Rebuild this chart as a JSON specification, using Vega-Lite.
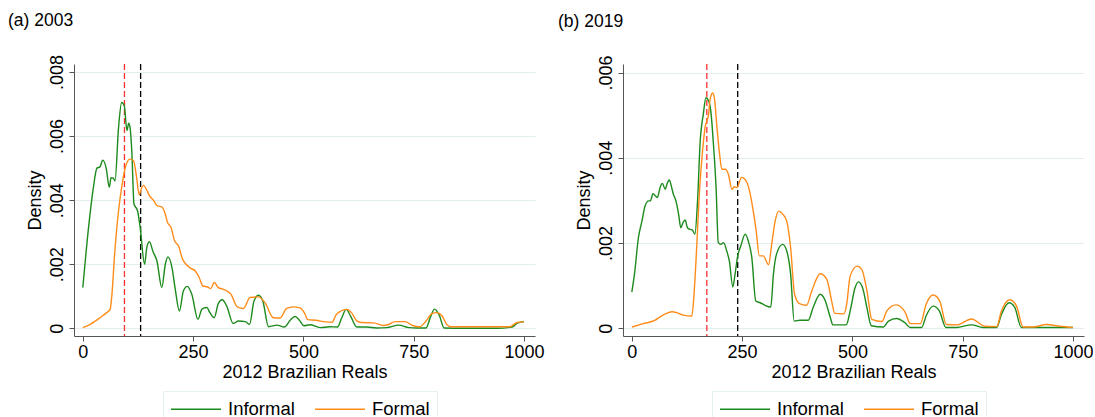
{
  "$schema": "https://vega.github.io/schema/vega-lite/v6.json",
  "padding": {"left": 8, "top": 11, "right": 0, "bottom": 0},
  "spacing": 14,
  "datasets": {
    "y2003": [
      {"reais": 0, "density": 0.00127, "sector": "Informal"}, {"reais": 13, "density": 0.00315, "sector": "Informal"},
      {"reais": 24, "density": 0.0044, "sector": "Informal"}, {"reais": 32, "density": 0.005, "sector": "Informal"},
      {"reais": 39, "density": 0.00504, "sector": "Informal"}, {"reais": 45, "density": 0.00525, "sector": "Informal"},
      {"reais": 53, "density": 0.005, "sector": "Informal"}, {"reais": 60, "density": 0.0044, "sector": "Informal"},
      {"reais": 64, "density": 0.0047, "sector": "Informal"}, {"reais": 69, "density": 0.00469, "sector": "Informal"},
      {"reais": 73, "density": 0.0046, "sector": "Informal"}, {"reais": 81, "density": 0.00627, "sector": "Informal"},
      {"reais": 88, "density": 0.00705, "sector": "Informal"}, {"reais": 94, "density": 0.00695, "sector": "Informal"},
      {"reais": 100, "density": 0.00617, "sector": "Informal"}, {"reais": 104, "density": 0.0064, "sector": "Informal"},
      {"reais": 107, "density": 0.00627, "sector": "Informal"}, {"reais": 111, "density": 0.00554, "sector": "Informal"},
      {"reais": 116, "density": 0.00388, "sector": "Informal"}, {"reais": 124, "density": 0.00367, "sector": "Informal"},
      {"reais": 130, "density": 0.00315, "sector": "Informal"}, {"reais": 140, "density": 0.002, "sector": "Informal"},
      {"reais": 145, "density": 0.00252, "sector": "Informal"}, {"reais": 151, "density": 0.0027, "sector": "Informal"},
      {"reais": 159, "density": 0.0024, "sector": "Informal"}, {"reais": 168, "density": 0.0021, "sector": "Informal"},
      {"reais": 179, "density": 0.00127, "sector": "Informal"}, {"reais": 187, "density": 0.002, "sector": "Informal"},
      {"reais": 193, "density": 0.00223, "sector": "Informal"}, {"reais": 202, "density": 0.0019, "sector": "Informal"},
      {"reais": 209, "density": 0.00127, "sector": "Informal"}, {"reais": 219, "density": 0.00054, "sector": "Informal"},
      {"reais": 228, "density": 0.00117, "sector": "Informal"}, {"reais": 237, "density": 0.00131, "sector": "Informal"},
      {"reais": 247, "density": 0.00106, "sector": "Informal"}, {"reais": 261, "density": 0.00028, "sector": "Informal"},
      {"reais": 270, "density": 0.0006, "sector": "Informal"}, {"reais": 281, "density": 0.00065, "sector": "Informal"},
      {"reais": 288, "density": 0.00049, "sector": "Informal"}, {"reais": 298, "density": 0.00033, "sector": "Informal"},
      {"reais": 307, "density": 0.00077, "sector": "Informal"}, {"reais": 316, "density": 0.00089, "sector": "Informal"},
      {"reais": 326, "density": 0.0007, "sector": "Informal"}, {"reais": 341, "density": 0.00015, "sector": "Informal"},
      {"reais": 353, "density": 0.00023, "sector": "Informal"}, {"reais": 368, "density": 0.00021, "sector": "Informal"},
      {"reais": 378, "density": 0.000125, "sector": "Informal"}, {"reais": 388, "density": 0.00085, "sector": "Informal"},
      {"reais": 398, "density": 0.00103, "sector": "Informal"}, {"reais": 408, "density": 0.00085, "sector": "Informal"},
      {"reais": 421, "density": 0.00005, "sector": "Informal"}, {"reais": 440, "density": 0.0001, "sector": "Informal"},
      {"reais": 457, "density": 0.00004, "sector": "Informal"}, {"reais": 470, "density": 0.00025, "sector": "Informal"},
      {"reais": 481, "density": 0.00037, "sector": "Informal"}, {"reais": 491, "density": 0.00025, "sector": "Informal"},
      {"reais": 501, "density": 0.00008, "sector": "Informal"}, {"reais": 515, "density": 0.00011, "sector": "Informal"},
      {"reais": 538, "density": 0.00002, "sector": "Informal"}, {"reais": 560, "density": 0.00005, "sector": "Informal"},
      {"reais": 577, "density": 0.00004, "sector": "Informal"}, {"reais": 587, "density": 0.00033, "sector": "Informal"},
      {"reais": 597, "density": 0.00059, "sector": "Informal"}, {"reais": 607, "density": 0.00038, "sector": "Informal"},
      {"reais": 621, "density": 0.00004, "sector": "Informal"}, {"reais": 643, "density": 0.00004, "sector": "Informal"},
      {"reais": 666, "density": 0.00001, "sector": "Informal"}, {"reais": 689, "density": 0.00002, "sector": "Informal"},
      {"reais": 716, "density": 0.0001, "sector": "Informal"}, {"reais": 739, "density": 0.00002, "sector": "Informal"},
      {"reais": 758, "density": 0.00001, "sector": "Informal"}, {"reais": 778, "density": 0.00001, "sector": "Informal"},
      {"reais": 788, "density": 0.00035, "sector": "Informal"}, {"reais": 797, "density": 0.0006, "sector": "Informal"},
      {"reais": 808, "density": 0.00041, "sector": "Informal"}, {"reais": 819, "density": 0.00001, "sector": "Informal"},
      {"reais": 863, "density": 0, "sector": "Informal"}, {"reais": 939, "density": 0, "sector": "Informal"},
      {"reais": 973, "density": 0.00004, "sector": "Informal"}, {"reais": 984, "density": 0.00015, "sector": "Informal"},
      {"reais": 1000, "density": 0.00021, "sector": "Informal"},
      {"reais": 0, "density": 0.00002, "sector": "Formal"}, {"reais": 17, "density": 0.000125, "sector": "Formal"},
      {"reais": 39, "density": 0.00033, "sector": "Formal"}, {"reais": 54, "density": 0.00049, "sector": "Formal"},
      {"reais": 62, "density": 0.0006, "sector": "Formal"}, {"reais": 66, "density": 0.00106, "sector": "Formal"},
      {"reais": 72, "density": 0.0023, "sector": "Formal"}, {"reais": 81, "density": 0.00367, "sector": "Formal"},
      {"reais": 88, "density": 0.0044, "sector": "Formal"}, {"reais": 98, "density": 0.0051, "sector": "Formal"},
      {"reais": 107, "density": 0.00528, "sector": "Formal"}, {"reais": 115, "density": 0.00523, "sector": "Formal"},
      {"reais": 121, "density": 0.0048, "sector": "Formal"}, {"reais": 128, "density": 0.00417, "sector": "Formal"},
      {"reais": 132, "density": 0.00434, "sector": "Formal"}, {"reais": 138, "density": 0.00446, "sector": "Formal"},
      {"reais": 144, "density": 0.00434, "sector": "Formal"}, {"reais": 151, "density": 0.00414, "sector": "Formal"},
      {"reais": 160, "density": 0.004, "sector": "Formal"}, {"reais": 169, "density": 0.00382, "sector": "Formal"},
      {"reais": 179, "density": 0.00379, "sector": "Formal"}, {"reais": 187, "density": 0.00356, "sector": "Formal"},
      {"reais": 192, "density": 0.0033, "sector": "Formal"}, {"reais": 200, "density": 0.00315, "sector": "Formal"},
      {"reais": 208, "density": 0.00273, "sector": "Formal"}, {"reais": 217, "density": 0.00257, "sector": "Formal"},
      {"reais": 226, "density": 0.00216, "sector": "Formal"}, {"reais": 234, "density": 0.002, "sector": "Formal"},
      {"reais": 245, "density": 0.00187, "sector": "Formal"}, {"reais": 255, "density": 0.00179, "sector": "Formal"},
      {"reais": 264, "density": 0.00158, "sector": "Formal"}, {"reais": 272, "density": 0.00132, "sector": "Formal"},
      {"reais": 283, "density": 0.00129, "sector": "Formal"}, {"reais": 290, "density": 0.00124, "sector": "Formal"},
      {"reais": 298, "density": 0.00143, "sector": "Formal"}, {"reais": 307, "density": 0.00127, "sector": "Formal"},
      {"reais": 320, "density": 0.00121, "sector": "Formal"}, {"reais": 336, "density": 0.00106, "sector": "Formal"},
      {"reais": 350, "density": 0.00067, "sector": "Formal"}, {"reais": 364, "density": 0.00062, "sector": "Formal"},
      {"reais": 379, "density": 0.00096, "sector": "Formal"}, {"reais": 398, "density": 0.00098, "sector": "Formal"},
      {"reais": 413, "density": 0.0008, "sector": "Formal"}, {"reais": 432, "density": 0.00033, "sector": "Formal"},
      {"reais": 447, "density": 0.00032, "sector": "Formal"}, {"reais": 462, "density": 0.00062, "sector": "Formal"},
      {"reais": 477, "density": 0.00067, "sector": "Formal"}, {"reais": 492, "density": 0.00064, "sector": "Formal"},
      {"reais": 502, "density": 0.00049, "sector": "Formal"}, {"reais": 510, "density": 0.00027, "sector": "Formal"},
      {"reais": 528, "density": 0.00025, "sector": "Formal"}, {"reais": 551, "density": 0.0002, "sector": "Formal"},
      {"reais": 565, "density": 0.00019, "sector": "Formal"}, {"reais": 574, "density": 0.00042, "sector": "Formal"},
      {"reais": 585, "density": 0.00054, "sector": "Formal"}, {"reais": 598, "density": 0.00059, "sector": "Formal"},
      {"reais": 609, "density": 0.00049, "sector": "Formal"}, {"reais": 621, "density": 0.00023, "sector": "Formal"},
      {"reais": 632, "density": 0.00018, "sector": "Formal"}, {"reais": 659, "density": 0.00017, "sector": "Formal"},
      {"reais": 681, "density": 0.00009, "sector": "Formal"}, {"reais": 693, "density": 0.00012, "sector": "Formal"},
      {"reais": 708, "density": 0.00021, "sector": "Formal"}, {"reais": 730, "density": 0.00021, "sector": "Formal"},
      {"reais": 749, "density": 0.00008, "sector": "Formal"}, {"reais": 764, "density": 0.00005, "sector": "Formal"},
      {"reais": 778, "density": 0.00023, "sector": "Formal"}, {"reais": 791, "density": 0.00046, "sector": "Formal"},
      {"reais": 802, "density": 0.00049, "sector": "Formal"}, {"reais": 814, "density": 0.00039, "sector": "Formal"},
      {"reais": 825, "density": 0.00012, "sector": "Formal"}, {"reais": 834, "density": 0.00005, "sector": "Formal"},
      {"reais": 900, "density": 0.00005, "sector": "Formal"}, {"reais": 968, "density": 0.00005, "sector": "Formal"},
      {"reais": 984, "density": 0.00018, "sector": "Formal"}, {"reais": 1000, "density": 0.0002, "sector": "Formal"}
    ],
    "y2019": [
      {"reais": 0, "density": 0.00085, "sector": "Informal"}, {"reais": 6, "density": 0.00127, "sector": "Informal"},
      {"reais": 15, "density": 0.00213, "sector": "Informal"}, {"reais": 23, "density": 0.00252, "sector": "Informal"},
      {"reais": 30, "density": 0.00287, "sector": "Informal"}, {"reais": 38, "density": 0.00299, "sector": "Informal"},
      {"reais": 42, "density": 0.00299, "sector": "Informal"}, {"reais": 48, "density": 0.00316, "sector": "Informal"},
      {"reais": 53, "density": 0.00311, "sector": "Informal"}, {"reais": 58, "density": 0.00307, "sector": "Informal"},
      {"reais": 64, "density": 0.0033, "sector": "Informal"}, {"reais": 69, "density": 0.0034, "sector": "Informal"},
      {"reais": 76, "density": 0.00326, "sector": "Informal"}, {"reais": 79, "density": 0.00336, "sector": "Informal"},
      {"reais": 85, "density": 0.00348, "sector": "Informal"}, {"reais": 89, "density": 0.00336, "sector": "Informal"},
      {"reais": 94, "density": 0.00315, "sector": "Informal"}, {"reais": 100, "density": 0.00299, "sector": "Informal"},
      {"reais": 106, "density": 0.00268, "sector": "Informal"}, {"reais": 111, "density": 0.00236, "sector": "Informal"},
      {"reais": 116, "density": 0.00248, "sector": "Informal"}, {"reais": 121, "density": 0.00254, "sector": "Informal"},
      {"reais": 126, "density": 0.00236, "sector": "Informal"}, {"reais": 132, "density": 0.00232, "sector": "Informal"},
      {"reais": 137, "density": 0.00231, "sector": "Informal"}, {"reais": 143, "density": 0.00221, "sector": "Informal"},
      {"reais": 149, "density": 0.00299, "sector": "Informal"}, {"reais": 155, "density": 0.0044, "sector": "Informal"},
      {"reais": 162, "density": 0.00502, "sector": "Informal"}, {"reais": 168, "density": 0.00541, "sector": "Informal"},
      {"reais": 174, "density": 0.00534, "sector": "Informal"}, {"reais": 179, "density": 0.0051, "sector": "Informal"},
      {"reais": 185, "density": 0.00432, "sector": "Informal"}, {"reais": 191, "density": 0.0033, "sector": "Informal"},
      {"reais": 196, "density": 0.00201, "sector": "Informal"}, {"reais": 202, "density": 0.00197, "sector": "Informal"},
      {"reais": 208, "density": 0.00201, "sector": "Informal"}, {"reais": 215, "density": 0.00182, "sector": "Informal"},
      {"reais": 221, "density": 0.00158, "sector": "Informal"}, {"reais": 229, "density": 0.00097, "sector": "Informal"},
      {"reais": 234, "density": 0.00127, "sector": "Informal"}, {"reais": 240, "density": 0.0017, "sector": "Informal"},
      {"reais": 247, "density": 0.00193, "sector": "Informal"}, {"reais": 257, "density": 0.00221, "sector": "Informal"},
      {"reais": 264, "density": 0.00205, "sector": "Informal"}, {"reais": 272, "density": 0.00166, "sector": "Informal"},
      {"reais": 281, "density": 0.00064, "sector": "Informal"}, {"reais": 291, "density": 0.0006, "sector": "Informal"},
      {"reais": 302, "density": 0.00054, "sector": "Informal"}, {"reais": 315, "density": 0.0005, "sector": "Informal"},
      {"reais": 321, "density": 0.00127, "sector": "Informal"}, {"reais": 328, "density": 0.00174, "sector": "Informal"},
      {"reais": 342, "density": 0.00197, "sector": "Informal"}, {"reais": 351, "density": 0.00182, "sector": "Informal"},
      {"reais": 360, "density": 0.00127, "sector": "Informal"}, {"reais": 368, "density": 0.00017, "sector": "Informal"},
      {"reais": 381, "density": 0.00019, "sector": "Informal"}, {"reais": 400, "density": 0.00019, "sector": "Informal"},
      {"reais": 411, "density": 0.00049, "sector": "Informal"}, {"reais": 427, "density": 0.0008, "sector": "Informal"},
      {"reais": 438, "density": 0.00066, "sector": "Informal"}, {"reais": 450, "density": 0.00025, "sector": "Informal"},
      {"reais": 456, "density": 0.00008, "sector": "Informal"}, {"reais": 486, "density": 0.00008, "sector": "Informal"},
      {"reais": 495, "density": 0.00041, "sector": "Informal"}, {"reais": 506, "density": 0.00095, "sector": "Informal"},
      {"reais": 514, "density": 0.00109, "sector": "Informal"}, {"reais": 524, "density": 0.00092, "sector": "Informal"},
      {"reais": 533, "density": 0.00048, "sector": "Informal"}, {"reais": 543, "density": 0.00006, "sector": "Informal"},
      {"reais": 570, "density": 0.00003, "sector": "Informal"}, {"reais": 582, "density": 0.00017, "sector": "Informal"},
      {"reais": 600, "density": 0.00023, "sector": "Informal"}, {"reais": 619, "density": 0.00013, "sector": "Informal"},
      {"reais": 631, "density": 0.00002, "sector": "Informal"}, {"reais": 657, "density": 0.00002, "sector": "Informal"},
      {"reais": 667, "density": 0.00029, "sector": "Informal"}, {"reais": 683, "density": 0.00052, "sector": "Informal"},
      {"reais": 697, "density": 0.00041, "sector": "Informal"}, {"reais": 712, "density": 0.00002, "sector": "Informal"},
      {"reais": 736, "density": 0.00002, "sector": "Informal"}, {"reais": 770, "density": 0.00008, "sector": "Informal"},
      {"reais": 796, "density": 0.00002, "sector": "Informal"}, {"reais": 827, "density": 0.00002, "sector": "Informal"},
      {"reais": 838, "density": 0.00033, "sector": "Informal"}, {"reais": 855, "density": 0.0006, "sector": "Informal"},
      {"reais": 868, "density": 0.00049, "sector": "Informal"}, {"reais": 883, "density": 0.00002, "sector": "Informal"},
      {"reais": 955, "density": 0.00002, "sector": "Informal"}, {"reais": 1000, "density": 0.00002, "sector": "Informal"},
      {"reais": 0, "density": 0.00003, "sector": "Formal"}, {"reais": 26, "density": 0.00011, "sector": "Formal"},
      {"reais": 53, "density": 0.00019, "sector": "Formal"}, {"reais": 64, "density": 0.00027, "sector": "Formal"},
      {"reais": 76, "density": 0.00034, "sector": "Formal"}, {"reais": 91, "density": 0.00039, "sector": "Formal"},
      {"reais": 102, "density": 0.00037, "sector": "Formal"}, {"reais": 117, "density": 0.00031, "sector": "Formal"},
      {"reais": 136, "density": 0.00029, "sector": "Formal"}, {"reais": 141, "density": 0.0008, "sector": "Formal"},
      {"reais": 147, "density": 0.00189, "sector": "Formal"}, {"reais": 153, "density": 0.00315, "sector": "Formal"},
      {"reais": 159, "density": 0.004, "sector": "Formal"}, {"reais": 166, "density": 0.00471, "sector": "Formal"},
      {"reais": 174, "density": 0.00502, "sector": "Formal"}, {"reais": 177, "density": 0.00534, "sector": "Formal"},
      {"reais": 183, "density": 0.00552, "sector": "Formal"}, {"reais": 187, "density": 0.00541, "sector": "Formal"},
      {"reais": 193, "density": 0.00471, "sector": "Formal"}, {"reais": 199, "density": 0.00408, "sector": "Formal"},
      {"reais": 204, "density": 0.00373, "sector": "Formal"}, {"reais": 212, "density": 0.00373, "sector": "Formal"},
      {"reais": 219, "density": 0.00361, "sector": "Formal"}, {"reais": 227, "density": 0.00326, "sector": "Formal"},
      {"reais": 232, "density": 0.00332, "sector": "Formal"}, {"reais": 238, "density": 0.0033, "sector": "Formal"},
      {"reais": 249, "density": 0.00354, "sector": "Formal"}, {"reais": 259, "density": 0.00346, "sector": "Formal"},
      {"reais": 266, "density": 0.00326, "sector": "Formal"}, {"reais": 274, "density": 0.00283, "sector": "Formal"},
      {"reais": 282, "density": 0.00228, "sector": "Formal"}, {"reais": 289, "density": 0.0017, "sector": "Formal"},
      {"reais": 298, "density": 0.0017, "sector": "Formal"}, {"reais": 310, "density": 0.00149, "sector": "Formal"},
      {"reais": 317, "density": 0.00197, "sector": "Formal"}, {"reais": 325, "density": 0.00252, "sector": "Formal"},
      {"reais": 333, "density": 0.00275, "sector": "Formal"}, {"reais": 342, "density": 0.00268, "sector": "Formal"},
      {"reais": 351, "density": 0.00252, "sector": "Formal"}, {"reais": 360, "density": 0.00189, "sector": "Formal"},
      {"reais": 369, "density": 0.0008, "sector": "Formal"}, {"reais": 380, "density": 0.00058, "sector": "Formal"},
      {"reais": 396, "density": 0.00054, "sector": "Formal"}, {"reais": 408, "density": 0.00088, "sector": "Formal"},
      {"reais": 427, "density": 0.00128, "sector": "Formal"}, {"reais": 442, "density": 0.00115, "sector": "Formal"},
      {"reais": 453, "density": 0.00064, "sector": "Formal"}, {"reais": 460, "density": 0.00035, "sector": "Formal"},
      {"reais": 481, "density": 0.00034, "sector": "Formal"}, {"reais": 487, "density": 0.00056, "sector": "Formal"},
      {"reais": 495, "density": 0.00123, "sector": "Formal"}, {"reais": 511, "density": 0.00146, "sector": "Formal"},
      {"reais": 521, "density": 0.00139, "sector": "Formal"}, {"reais": 533, "density": 0.00088, "sector": "Formal"},
      {"reais": 544, "density": 0.00021, "sector": "Formal"}, {"reais": 567, "density": 0.00016, "sector": "Formal"},
      {"reais": 578, "density": 0.00041, "sector": "Formal"}, {"reais": 599, "density": 0.00055, "sector": "Formal"},
      {"reais": 620, "density": 0.00037, "sector": "Formal"}, {"reais": 631, "density": 0.00011, "sector": "Formal"},
      {"reais": 654, "density": 0.00011, "sector": "Formal"}, {"reais": 667, "density": 0.00056, "sector": "Formal"},
      {"reais": 683, "density": 0.00078, "sector": "Formal"}, {"reais": 698, "density": 0.00064, "sector": "Formal"},
      {"reais": 713, "density": 0.00009, "sector": "Formal"}, {"reais": 737, "density": 0.00008, "sector": "Formal"},
      {"reais": 770, "density": 0.00022, "sector": "Formal"}, {"reais": 800, "density": 0.00005, "sector": "Formal"},
      {"reais": 827, "density": 0.00004, "sector": "Formal"}, {"reais": 838, "density": 0.00041, "sector": "Formal"},
      {"reais": 857, "density": 0.00067, "sector": "Formal"}, {"reais": 872, "density": 0.00052, "sector": "Formal"},
      {"reais": 887, "density": 0.00003, "sector": "Formal"}, {"reais": 910, "density": 0.00003, "sector": "Formal"},
      {"reais": 940, "density": 0.00009, "sector": "Formal"}, {"reais": 970, "density": 0.00005, "sector": "Formal"},
      {"reais": 1000, "density": 0.00002, "sector": "Formal"}
    ]
  },
  "hconcat": [
    {
      "title": {"text": "(a) 2003", "anchor": "start", "frame": "group", "dx": -66, "offset": 25, "fontSize": 17.5, "fontWeight": "normal"},
      "width": 461,
      "height": 272,
      "layer": [
        {
          "data": {"values": [{"reais": 94.4}]},
          "mark": {"type": "rule", "color": "#ff3030", "strokeDash": [6, 3], "strokeWidth": 1.3},
          "encoding": {"x": {"field": "reais", "type": "quantitative"}}
        },
        {
          "data": {"values": [{"reais": 131}]},
          "mark": {"type": "rule", "color": "#000000", "strokeDash": [6, 3], "strokeWidth": 1.3},
          "encoding": {"x": {"field": "reais", "type": "quantitative"}}
        },
        {
          "data": {"name": "y2003"},
          "mark": {"type": "line", "strokeWidth": 1.4, "interpolate": "monotone"},
          "encoding": {
            "x": {
              "field": "reais", "type": "quantitative",
              "scale": {"domain": [-20, 1025], "nice": false, "zero": false},
              "axis": {"values": [0, 250, 500, 750, 1000], "format": "d", "title": "2012 Brazilian Reals", "grid": false}
            },
            "y": {
              "field": "density", "type": "quantitative",
              "scale": {"domain": [-0.00024, 0.00825], "nice": false, "zero": false},
              "axis": {
                "values": [0, 0.002, 0.004, 0.006, 0.008],
                "labelExpr": "datum.value == 0 ? '0' : replace(format(datum.value, '.3f'), '0.', '.')",
                "title": "Density", "grid": true
              }
            },
            "color": {
              "field": "sector", "type": "nominal",
              "scale": {"domain": ["Informal", "Formal"], "range": ["#1c8a1c", "#ff8c1a"]},
              "legend": {"orient": "none", "legendX": 89, "legendY": 327, "direction": "horizontal", "title": null}
            }
          }
        }
      ]
    },
    {
      "title": {"text": "(b) 2019", "anchor": "start", "frame": "group", "dx": -65, "offset": 25, "fontSize": 17.5, "fontWeight": "normal"},
      "width": 461,
      "height": 272,
      "layer": [
        {
          "data": {"values": [{"reais": 170}]},
          "mark": {"type": "rule", "color": "#ff3030", "strokeDash": [6, 3], "strokeWidth": 1.3},
          "encoding": {"x": {"field": "reais", "type": "quantitative"}}
        },
        {
          "data": {"values": [{"reais": 240}]},
          "mark": {"type": "rule", "color": "#000000", "strokeDash": [6, 3], "strokeWidth": 1.3},
          "encoding": {"x": {"field": "reais", "type": "quantitative"}}
        },
        {
          "data": {"name": "y2019"},
          "mark": {"type": "line", "strokeWidth": 1.4, "interpolate": "monotone"},
          "encoding": {
            "x": {
              "field": "reais", "type": "quantitative",
              "scale": {"domain": [-20, 1025], "nice": false, "zero": false},
              "axis": {"values": [0, 250, 500, 750, 1000], "format": "d", "title": "2012 Brazilian Reals", "grid": false}
            },
            "y": {
              "field": "density", "type": "quantitative",
              "scale": {"domain": [-0.00018, 0.0062], "nice": false, "zero": false},
              "axis": {
                "values": [0, 0.002, 0.004, 0.006],
                "labelExpr": "datum.value == 0 ? '0' : replace(format(datum.value, '.3f'), '0.', '.')",
                "title": "Density", "grid": true
              }
            },
            "color": {
              "field": "sector", "type": "nominal",
              "scale": {"domain": ["Informal", "Formal"], "range": ["#1c8a1c", "#ff8c1a"]},
              "legend": {"orient": "none", "legendX": 89, "legendY": 327, "direction": "horizontal", "title": null}
            }
          }
        }
      ]
    }
  ],
  "resolve": {
    "scale": {"x": "independent", "y": "independent", "color": "independent"},
    "legend": {"color": "independent"}
  },
  "config": {
    "font": "Liberation Sans",
    "view": {"stroke": null},
    "title": {"fontSize": 17.5, "fontWeight": "normal", "color": "#000000"},
    "axis": {
      "labelFontSize": 18, "titleFontSize": 18, "titleFontWeight": "normal",
      "labelColor": "#000000", "titleColor": "#000000",
      "domainColor": "#555555", "tickColor": "#555555", "tickSize": 5,
      "gridColor": "#e3edef", "gridWidth": 1
    },
    "axisX": {"labelPadding": 2, "titlePadding": 2, "labelFlush": false},
    "axisY": {"labelAngle": -90, "labelAlign": "center", "labelBaseline": "bottom", "labelPadding": 3, "titlePadding": 4},
    "legend": {
      "labelFontSize": 18.5, "labelColor": "#000000", "symbolType": "M-2.5,0H2.5", "symbolSize": 400,
      "symbolStrokeWidth": 1.5, "symbolOffset": 15, "labelOffset": 21, "columnPadding": 17, "padding": 7,
      "strokeColor": "#e6eff1", "fillColor": "#ffffff"
    }
  }
}
